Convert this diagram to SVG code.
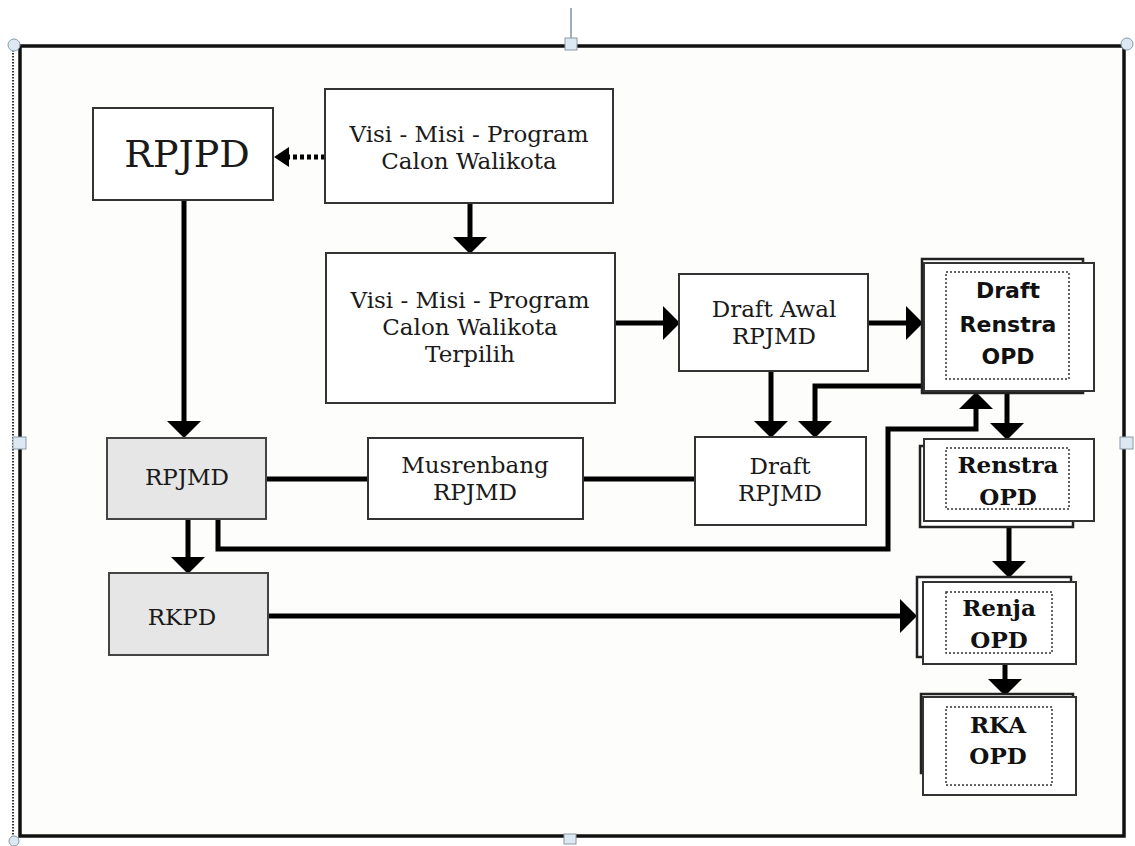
<svg xmlns="http://www.w3.org/2000/svg" width="1135" height="846" viewBox="0 0 1135 846">
<style>
.box{fill:#fff;stroke:#333;stroke-width:2}
.gray{fill:#e6e6e6;stroke:#444;stroke-width:2}
.back{fill:#fff;stroke:#222;stroke-width:2.5}
.inner{fill:none;stroke:#333;stroke-width:1.5;stroke-dasharray:2 2}
.t{font-family:"DejaVu Serif","Liberation Serif",serif;font-size:23px;fill:#1a1a1a;text-anchor:middle}
.tb{font-family:"DejaVu Serif","Liberation Serif",serif;font-size:23px;font-weight:bold;fill:#111;text-anchor:middle}
.ts{font-family:"DejaVu Sans","Liberation Sans",sans-serif;font-size:22px;font-weight:bold;fill:#111;text-anchor:middle}
.c{fill:none;stroke:#000;stroke-width:5}
.handle{fill:#dce9f2;stroke:#8a9aa6;stroke-width:1}
</style>
<defs>
<marker id="ah" viewBox="0 0 17 34" refX="0" refY="17" markerWidth="17" markerHeight="34" markerUnits="userSpaceOnUse" orient="auto">
<path d="M0,0 L17,17 L0,34 z" fill="#000"/>
</marker>
<marker id="ahs" viewBox="0 0 15 20" refX="0" refY="10" markerWidth="15" markerHeight="20" markerUnits="userSpaceOnUse" orient="auto">
<path d="M0,0 L15,10 L0,20 z" fill="#000"/>
</marker>
</defs>
<rect x="0" y="0" width="1135" height="846" fill="#fff"/>
<g id="frame">
<rect x="20" y="46" width="1104" height="790" fill="#fdfdfb"/>
<line x1="13" y1="50" x2="13" y2="838" stroke="#333" stroke-width="2" stroke-dasharray="1.5 1.5"/>
<rect x="20" y="46" width="1104" height="790" fill="none" stroke="#111" stroke-width="3.5"/>
<line x1="571" y1="8" x2="571" y2="40" stroke="#7f93a3" stroke-width="1.5"/>
<rect class="handle" x="565" y="38" width="12" height="12"/>
<rect class="handle" x="13" y="437" width="13" height="12"/>
<rect class="handle" x="1120" y="437" width="13" height="12"/>
<rect class="handle" x="564" y="834" width="12" height="10"/>
<circle class="handle" cx="14" cy="45" r="6"/>
<circle class="handle" cx="1127" cy="44" r="6"/>
<circle class="handle" cx="14" cy="841" r="5"/>
</g>
<g id="connectors">
<line class="c" x1="325" y1="157" x2="289" y2="157" stroke-dasharray="4 3" marker-end="url(#ahs)"/>
<line class="c" x1="470" y1="203" x2="470" y2="237" marker-end="url(#ah)"/>
<line class="c" x1="184" y1="200" x2="184" y2="421" marker-end="url(#ah)"/>
<line class="c" x1="615" y1="323" x2="663" y2="323" marker-end="url(#ah)"/>
<line class="c" x1="868" y1="323" x2="906" y2="323" marker-end="url(#ah)"/>
<line class="c" x1="771" y1="371" x2="771" y2="421" marker-end="url(#ah)"/>
<polyline class="c" points="924,386 815,386 815,421" marker-end="url(#ah)"/>
<line class="c" x1="1007" y1="391" x2="1007" y2="423" marker-end="url(#ah)"/>
<polyline class="c" points="218,519 218,549 888,549 888,429 976,429 976,409" marker-end="url(#ah)"/>
<line class="c" x1="188" y1="519" x2="188" y2="557" marker-end="url(#ah)"/>
<line class="c" x1="262" y1="479" x2="368" y2="479"/>
<line class="c" x1="583" y1="479" x2="695" y2="479"/>
<line class="c" x1="268" y1="616" x2="900" y2="616" marker-end="url(#ah)"/>
<line class="c" x1="1009" y1="521" x2="1009" y2="561" marker-end="url(#ah)"/>
<line class="c" x1="1005" y1="664" x2="1005" y2="679" marker-end="url(#ah)"/>
</g>
<g id="rpjpd">
<rect class="box" x="93" y="108" width="180" height="92"/>
<text class="t" x="187" y="167" style="font-size:38px">RPJPD</text>
</g>
<g id="visi-misi">
<rect class="box" x="325" y="89" width="288" height="114"/>
<text class="t" x="469" y="142">Visi - Misi - Program</text>
<text class="t" x="469" y="169">Calon Walikota</text>
</g>
<g id="visi-misi-terpilih">
<rect class="box" x="326" y="253" width="289" height="150"/>
<text class="t" x="470" y="308">Visi - Misi - Program</text>
<text class="t" x="470" y="335">Calon Walikota</text>
<text class="t" x="470" y="362">Terpilih</text>
</g>
<g id="draft-awal-rpjmd">
<rect class="box" x="679" y="274" width="189" height="97"/>
<text class="t" x="774" y="317">Draft Awal</text>
<text class="t" x="774" y="344">RPJMD</text>
</g>
<g id="draft-renstra-opd">
<rect class="back" x="922" y="259" width="161" height="134"/>
<rect class="box" x="924" y="263" width="170" height="128" stroke="#222"/>
<rect class="inner" x="946" y="272" width="123" height="107"/>
<text class="ts" x="1008" y="298">Draft</text>
<text class="ts" x="1008" y="332">Renstra</text>
<text class="ts" x="1008" y="364">OPD</text>
</g>
<g id="draft-rpjmd">
<rect class="box" x="695" y="437" width="171" height="88"/>
<text class="t" x="780" y="474">Draft</text>
<text class="t" x="780" y="501">RPJMD</text>
</g>
<g id="musrenbang">
<rect class="box" x="368" y="438" width="215" height="81"/>
<text class="t" x="475" y="473">Musrenbang</text>
<text class="t" x="475" y="500">RPJMD</text>
</g>
<g id="rpjmd">
<rect class="gray" x="107" y="438" width="159" height="81"/>
<text class="t" x="187" y="485">RPJMD</text>
</g>
<g id="rkpd">
<rect class="gray" x="109" y="573" width="159" height="82"/>
<text class="t" x="182" y="625">RKPD</text>
</g>
<g id="renstra-opd">
<rect class="back" x="920" y="446" width="153" height="81"/>
<rect class="box" x="924" y="439" width="170" height="82" stroke="#222"/>
<rect class="inner" x="946" y="448" width="123" height="61"/>
<text class="tb" x="1008" y="473">Renstra</text>
<text class="tb" x="1008" y="505">OPD</text>
</g>
<g id="renja-opd">
<rect class="back" x="917" y="577" width="154" height="80"/>
<rect class="box" x="923" y="582" width="153" height="82" stroke="#222"/>
<rect class="inner" x="946" y="592" width="106" height="61"/>
<text class="tb" x="999" y="616">Renja</text>
<text class="tb" x="999" y="648">OPD</text>
</g>
<g id="rka-opd">
<rect class="back" x="921" y="694" width="152" height="79"/>
<rect class="box" x="923" y="697" width="153" height="98" stroke="#222"/>
<rect class="inner" x="946" y="707" width="106" height="78"/>
<text class="tb" x="998" y="733">RKA</text>
<text class="tb" x="998" y="764">OPD</text>
</g>
</svg>
